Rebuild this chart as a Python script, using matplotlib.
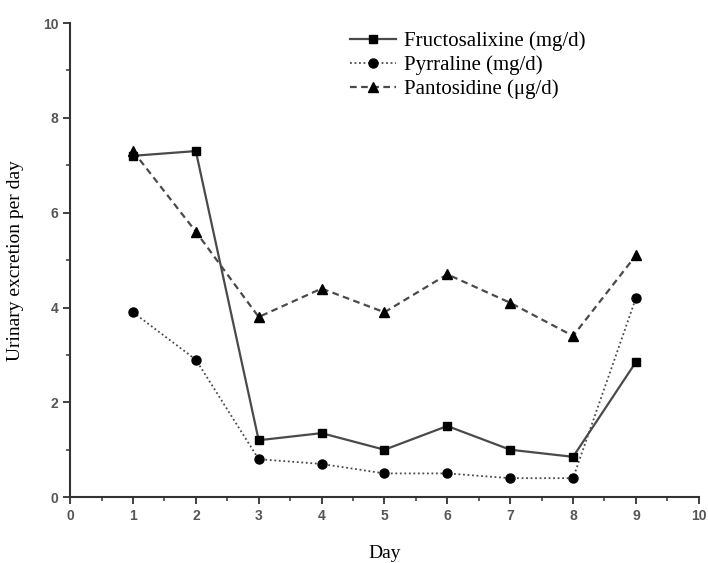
import matplotlib
matplotlib.use('Agg')
import matplotlib.pyplot as plt
from matplotlib.ticker import MultipleLocator

days = [1, 2, 3, 4, 5, 6, 7, 8, 9]
fructosalixine = [7.2, 7.3, 1.2, 1.35, 1.0, 1.5, 1.0, 0.85, 2.85]
pyrraline = [3.9, 2.9, 0.8, 0.7, 0.5, 0.5, 0.4, 0.4, 4.2]
pentosidine = [7.3, 5.6, 3.8, 4.4, 3.9, 4.7, 4.1, 3.4, 5.1]

fig = plt.figure(figsize=(7.08, 5.63), dpi=100)
ax = fig.add_axes([0.099, 0.117, 0.888, 0.842])

lc = '#4a4a4a'
ax.plot(days, fructosalixine, color=lc, lw=1.6, ls='-', marker='s', ms=6,
        mfc='black', mec='black', label='Fructosalixine (mg/d)')
ax.plot(days, pyrraline, color=lc, lw=1.3, ls=(0, (1, 1.5)), marker='o', ms=6.5,
        mfc='black', mec='black', label='Pyrraline (mg/d)')
ax.plot(days, pentosidine, color=lc, lw=1.6, ls=(0, (3, 2)), marker='^', ms=7,
        mfc='black', mec='black', label='Pantosidine (\u03bcg/d)')

ax.set_xlim(0, 10)
ax.set_ylim(0, 10)
ax.xaxis.set_major_locator(MultipleLocator(1))
ax.xaxis.set_minor_locator(MultipleLocator(0.5))
ax.yaxis.set_major_locator(MultipleLocator(2))
ax.yaxis.set_minor_locator(MultipleLocator(1))
for s in ['top', 'right']:
    ax.spines[s].set_visible(False)
for s in ['left', 'bottom']:
    ax.spines[s].set_linewidth(1.5)
    ax.spines[s].set_color('#333333')
ax.tick_params(which='major', direction='out', length=5, width=1.3, color='#333333',
               labelsize=10, labelcolor='#555555')
ax.tick_params(which='minor', direction='out', length=3, width=1.1, color='#333333')
for t in ax.get_xticklabels() + ax.get_yticklabels():
    t.set_fontweight('bold')
    t.set_family('Liberation Sans')

ax.set_xlabel('Day', family='Liberation Serif', fontsize=14)
ax.set_ylabel('Urinary excretion per day', family='Liberation Serif', fontsize=14)
ax.xaxis.set_label_coords(0.5, -0.1)
ax.yaxis.set_label_coords(-0.074, 0.5)

leg = ax.legend(loc='upper left', bbox_to_anchor=(0.432, 1.0), frameon=False,
                prop={'family': 'Liberation Serif', 'size': 15},
                handlelength=2.2, handletextpad=0.4, labelspacing=0.2,
                borderaxespad=0.0)

fig.savefig('out.png', dpi=100)
